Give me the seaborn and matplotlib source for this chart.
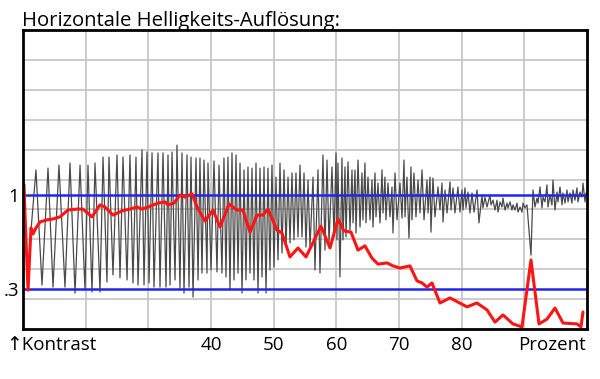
import matplotlib
matplotlib.use("Agg")
import matplotlib.pyplot as plt
import seaborn as sns
import pandas as pd

# x: Prozent (10..100), y: Kontrast-Level in Rastereinheiten (0..100)
red_x = [10.16, 10.32, 10.80, 11.28, 11.60, 12.07, 12.71, 13.83, 14.79, 15.90,
         17.18, 18.62, 19.57, 21.01, 22.29, 23.08, 24.36, 25.80, 27.07, 28.19,
         28.99, 29.95, 31.54, 32.66, 33.14, 34.09, 35.05, 35.85, 36.97, 37.77,
         39.04, 40.32, 41.43, 42.87, 44.15, 45.10, 46.22, 47.34, 48.30, 49.09,
         50.53, 51.33, 52.60, 53.88, 55.16, 57.55, 58.99, 60.26, 61.22, 62.34,
         63.45, 64.57, 65.69, 66.65, 68.08, 69.04, 70.16, 71.75, 72.87, 73.67,
         74.47, 75.26, 76.54, 78.14, 79.41, 80.85, 82.44, 84.04, 85.32, 86.59,
         88.19, 89.62, 91.06, 92.34, 93.61, 94.89, 96.17, 98.40, 99.04, 99.36]
red_y = [48.2, 38.1, 13.0, 33.8, 31.8, 33.8, 35.8, 36.5, 36.8, 37.5,
         39.8, 40.1, 40.1, 37.5, 41.5, 40.8, 38.1, 39.5, 40.1, 40.8,
         40.1, 40.8, 42.1, 42.5, 41.5, 42.1, 44.8, 44.1, 45.2, 40.8,
         36.1, 39.8, 34.1, 41.8, 39.8, 39.8, 32.4, 38.1, 38.1, 40.1,
         33.1, 32.1, 24.1, 27.1, 24.1, 34.4, 27.1, 36.8, 32.8, 32.4,
         26.4, 27.8, 23.7, 21.7, 22.1, 21.1, 20.4, 21.1, 16.1, 15.4,
         14.0, 15.4, 8.7, 10.4, 9.0, 7.4, 8.7, 6.4, 2.3, 4.7,
         1.7, 0.7, 23.1, 1.7, 3.3, 7.0, 2.0, 1.7, 0.7, 5.7]

gray_x = [11.28, 12.07, 13.03, 13.99, 14.79, 15.74, 16.70, 17.50, 18.30, 19.10,
          19.89, 20.37, 21.01, 21.49, 22.29, 22.77, 23.40, 23.72, 24.36, 25.00,
          25.48, 25.96, 26.60, 27.07, 27.55, 28.03, 28.35, 28.99, 29.31, 29.79,
          30.11, 30.59, 30.90, 31.54, 31.86, 32.34, 32.82, 33.14, 33.46, 33.78,
          34.26, 34.57, 35.05, 35.37, 35.69, 36.17, 36.49, 36.81, 37.13, 37.61,
          37.93, 38.24, 38.56, 38.88, 39.36, 39.52, 40.00, 40.48, 40.96, 41.28,
          41.75, 42.07, 42.39, 42.71, 43.03, 43.35, 43.67, 43.99, 44.31, 44.63,
          44.95, 45.27, 45.58, 45.90, 46.22, 46.54, 46.86, 47.18, 47.50, 47.82,
          48.14, 48.46, 48.78, 49.09, 49.41, 49.73, 50.05, 50.37, 50.69, 51.01,
          51.33, 51.65, 51.97, 52.29, 52.61, 52.92, 53.24, 53.56, 53.88, 54.20,
          54.52, 54.84, 55.16, 55.48, 55.80, 56.28, 56.59, 57.07, 57.39, 57.87,
          58.19, 58.51, 58.83, 59.31, 59.63, 59.95, 60.10, 60.26, 60.58, 60.90,
          61.06, 61.38, 61.54, 61.86, 62.18, 62.50, 62.66, 62.98, 63.14, 63.46,
          63.78, 64.09, 64.25, 64.57, 64.73, 65.05, 65.37, 65.69, 65.85, 66.17,
          66.33, 66.65, 66.97, 67.29, 67.45, 67.76, 67.92, 68.24, 68.56, 68.88,
          69.04, 69.36, 69.68, 70.16, 70.48, 70.80, 70.96, 71.27, 71.59, 71.91,
          72.07, 72.39, 72.71, 73.03, 73.35, 73.67, 73.99, 74.47, 74.63, 74.95,
          75.10, 75.42, 75.74, 76.22, 76.54, 76.86, 77.02, 77.34, 77.66, 78.14,
          78.30, 78.62, 78.93, 79.41, 79.73, 80.05, 80.21, 80.53, 80.69, 81.01,
          81.33, 81.65, 81.97, 82.45, 82.76, 83.24, 83.40, 83.72, 84.04, 84.52,
          84.68, 85.00, 85.32, 85.64, 85.80, 86.12, 86.43, 86.59, 86.91, 87.23,
          87.39, 87.71, 88.03, 88.19, 88.51, 88.83, 88.99, 89.31, 89.63, 89.79,
          90.10, 90.42, 91.06, 91.38, 91.70, 92.02, 92.18, 92.50, 92.82, 92.98,
          93.30, 93.61, 93.77, 94.09, 94.41, 94.57, 94.89, 95.21, 95.37, 95.69,
          96.01, 96.17, 96.49, 96.81, 96.97, 97.28, 97.60, 97.76, 98.08, 98.40,
          98.56, 98.88, 99.20, 99.36, 99.68, 99.84]
gray_y = [33.1, 53.2, 14.7, 53.8, 14.0, 54.8, 14.0, 55.5, 12.0, 54.8,
          13.0, 54.8, 12.4, 55.5, 12.4, 57.5, 15.7, 57.5, 18.1, 58.2,
          17.1, 57.5, 16.4, 58.2, 15.4, 57.5, 14.7, 59.9, 14.7, 59.2,
          15.4, 58.9, 14.0, 58.9, 14.0, 58.9, 14.0, 58.2, 14.7, 59.2,
          16.4, 61.5, 13.7, 58.9, 12.0, 58.2, 14.0, 57.5, 10.7, 57.2,
          16.4, 57.2, 18.7, 56.5, 18.7, 55.5, 19.7, 56.2, 19.1, 54.8,
          18.7, 57.2, 17.4, 57.5, 13.0, 58.9, 16.4, 58.2, 18.7, 55.5,
          12.0, 53.2, 16.4, 54.2, 18.7, 53.8, 16.4, 55.5, 12.0, 53.8,
          17.4, 54.2, 12.0, 53.8, 19.7, 54.8, 20.7, 50.8, 23.1, 55.5,
          25.4, 53.2, 27.4, 50.8, 28.8, 52.2, 29.8, 52.2, 30.8, 54.8,
          30.8, 52.2, 27.4, 49.8, 27.4, 50.8, 19.7, 53.2, 18.7, 58.2,
          26.4, 56.5, 28.8, 54.2, 30.8, 58.9, 29.8, 55.5, 17.4, 57.2,
          29.8, 54.2, 30.8, 55.9, 33.1, 53.2, 35.5, 53.2, 32.1, 56.5,
          34.1, 52.2, 36.5, 55.5, 35.5, 50.8, 36.5, 49.8, 34.1, 52.2,
          37.5, 48.8, 35.5, 53.2, 38.8, 50.8, 36.5, 48.8, 37.5, 47.5,
          32.1, 52.2, 36.5, 48.8, 37.1, 56.5, 37.5, 50.8, 30.4, 54.2,
          36.5, 52.2, 37.5, 49.8, 38.8, 53.2, 36.5, 49.8, 38.8, 50.8,
          32.4, 50.5, 37.5, 47.5, 39.8, 48.8, 35.8, 46.5, 38.8, 49.2,
          39.8, 47.2, 38.8, 47.5, 39.1, 46.5, 39.8, 47.2, 40.5, 45.8,
          38.8, 45.5, 39.1, 46.5, 35.5, 44.8, 40.5, 44.1, 40.8, 44.8,
          41.5, 43.1, 39.8, 43.1, 39.1, 42.5, 40.8, 43.8, 39.8, 42.1,
          40.5, 42.5, 39.8, 41.5, 39.8, 42.1, 39.1, 40.8, 39.1, 42.1,
          40.5, 41.5, 24.7, 46.5, 40.8, 43.8, 42.1, 47.5, 40.5, 44.1,
          42.5, 48.2, 40.8, 44.8, 41.5, 49.8, 39.8, 45.8, 42.5, 47.5,
          41.5, 45.5, 42.1, 46.5, 42.5, 45.5, 42.1, 46.5, 43.1, 47.2,
          42.5, 45.8, 44.1, 48.8, 42.5, 45.5]

ref_levels = [44.8, 13.4]
ref_labels = ["1", ".3"]
pct_ticks = [40, 50, 60, 70, 80]

sns.set_style("white")
plt.rcParams['font.family'] = ['Open Sans', 'DejaVu Sans']
plt.rcParams['text.color'] = 'black'
plt.rcParams['xtick.color'] = 'black'
plt.rcParams['ytick.color'] = 'black'

fig = plt.figure(figsize=(6, 3.79), dpi=100)
ax = fig.add_axes([23/600, 50/379, 564/600, 299/379])

ax.set_xlim(10, 100)
ax.set_ylim(0, 100)

ax.set_xticks(pct_ticks)
ax.set_xticklabels([str(t) for t in pct_ticks], fontsize=13.5)
ax.set_xticks([20, 30, 90], minor=True)
ax.set_yticks(ref_levels)
ax.set_yticklabels(ref_labels, fontsize=13.5)
ax.set_yticks(range(10, 100, 10), minor=True)
ax.tick_params(which='both', length=0)
ax.tick_params(axis='x', pad=5)
ax.tick_params(axis='y', pad=3)
ax.xaxis.grid(True, which='both', color='#c4c4c4', lw=1.2)
ax.yaxis.grid(True, which='minor', color='#c4c4c4', lw=1.2)
ax.yaxis.grid(False, which='major')
ax.set_axisbelow(True)

gray = pd.DataFrame({'x': gray_x, 'y': gray_y})
red = pd.DataFrame({'x': red_x, 'y': red_y})
sns.lineplot(data=gray, x='x', y='y', sort=False, color='#4a4a4a', lw=0.9, ax=ax)
for lv in ref_levels:
    ax.axhline(lv, color='#2323f0', lw=1.8)
sns.lineplot(data=red, x='x', y='y', sort=False, color='#ff1414', lw=2.2, ax=ax)

ax.set_xlabel('')
ax.set_ylabel('')
for s in ax.spines.values():
    s.set_visible(True)
    s.set_color('black')
    s.set_linewidth(2)

fig.text(22/600, 1 - 26/379, 'Horizontale Helligkeits-Auflösung:', fontsize=14.6, ha='left', va='baseline')
fig.text(6/600, 1 - 350/379, '↑Kontrast', fontsize=13.5, ha='left', va='baseline')
fig.text(586/600, 1 - 350/379, 'Prozent', fontsize=13.5, ha='right', va='baseline')

plt.savefig('out.png', dpi=100)
